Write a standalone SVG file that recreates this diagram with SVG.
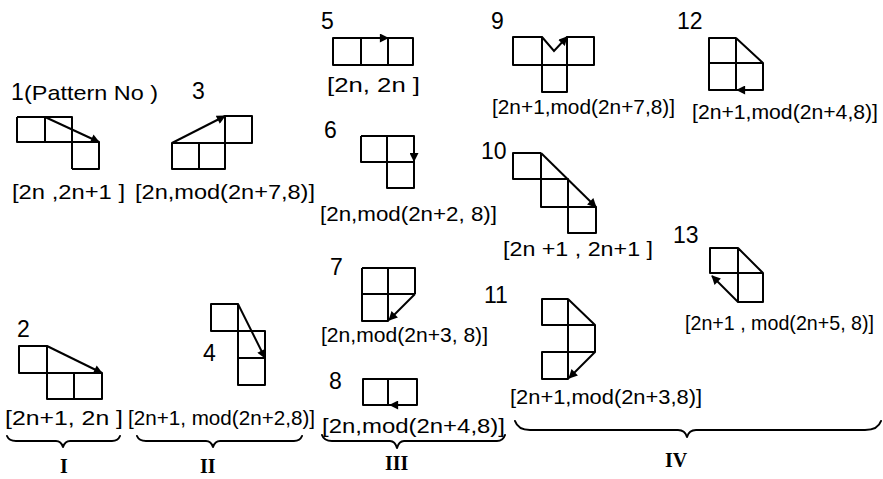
<svg xmlns="http://www.w3.org/2000/svg" width="883" height="479" viewBox="0 0 883 479">
  <style>
    .cell { fill: none; stroke: #000; stroke-width: 2; stroke-linejoin: round; }
    .arr { fill: none; stroke: #000; stroke-width: 2; marker-end: url(#head); }
    .num { font-family: "Liberation Sans", Arial, sans-serif; font-size: 23px; fill: #000; }
    .lbl { font-family: "Liberation Sans", Arial, sans-serif; font-size: 21px; fill: #000; }
    .brace { fill: none; stroke: #000; stroke-width: 2; stroke-linejoin: round; stroke-linecap: round; }
    .roman { font-family: "Liberation Serif", "Times New Roman", serif; font-weight: bold; font-size: 20px; fill: #000; }
  </style>
  <defs>
    <marker id="head" viewBox="0 0 10 10" refX="9" refY="5" markerWidth="11" markerHeight="9" markerUnits="userSpaceOnUse" orient="auto">
      <path d="M0,0 L10,5 L0,10 z" fill="#000"/>
    </marker>
  </defs>

  <g id="pattern-1">
    <text class="num" x="11" y="100">1</text>
    <text class="lbl" x="24" y="100" font-size="20" textLength="134" lengthAdjust="spacingAndGlyphs">(Pattern No )</text>
    <path class="cell" d="M17,117 H72 V169 M17,117 V142 H99 V169 H72 M45,117 V142"/>
    <path class="arr" d="M45,117 L99,142"/>
    <text class="lbl" x="12" y="199" textLength="113" lengthAdjust="spacingAndGlyphs">[2n ,2n+1 ]</text>
  </g>

  <g id="pattern-3">
    <text class="num" x="192" y="99">3</text>
    <path class="cell" d="M172,143 H252 V116 H225 V169 H172 Z M199,143 V169"/>
    <path class="arr" d="M172,143 L225,116"/>
    <text class="lbl" x="135" y="199" textLength="180" lengthAdjust="spacingAndGlyphs">[2n,mod(2n+7,8)]</text>
  </g>

  <g id="pattern-2">
    <text class="num" x="17" y="337">2</text>
    <path class="cell" d="M19,346 H47 V399 H102 V373 H19 Z M74,373 V399"/>
    <path class="arr" d="M47,346 L102,373"/>
    <text class="lbl" x="5" y="425" textLength="118" lengthAdjust="spacingAndGlyphs">[2n+1, 2n ]</text>
  </g>

  <g id="pattern-4">
    <text class="num" x="203" y="361">4</text>
    <path class="cell" d="M211,304 H238 V385 H265 V331 H211 Z M238,358 H265"/>
    <path class="arr" d="M238,304 L265,358"/>
    <text class="lbl" x="128" y="425" textLength="187" lengthAdjust="spacingAndGlyphs">[2n+1, mod(2n+2,8)]</text>
  </g>

  <g id="pattern-5">
    <text class="num" x="321" y="29">5</text>
    <path class="cell" d="M333,38 H413 V65 H333 Z M361,38 V65 M388,38 V65"/>
    <path class="arr" d="M362,38 L388,38"/>
    <text class="lbl" x="327" y="92" textLength="93" lengthAdjust="spacingAndGlyphs">[2n, 2n ]</text>
  </g>

  <g id="pattern-6">
    <text class="num" x="324" y="138">6</text>
    <path class="cell" d="M361,136 H414 V188 H387 V136 M361,136 V162 H414"/>
    <path class="arr" d="M414,136 L414,161"/>
    <text class="lbl" x="320" y="221" textLength="177" lengthAdjust="spacingAndGlyphs">[2n,mod(2n+2, 8)]</text>
  </g>

  <g id="pattern-7">
    <text class="num" x="330" y="275">7</text>
    <path class="cell" d="M362,268 H415 V294 M362,268 V321 H388 V268 M362,294 H415"/>
    <path class="arr" d="M415,294 L389,320"/>
    <text class="lbl" x="321" y="342" textLength="167" lengthAdjust="spacingAndGlyphs">[2n,mod(2n+3, 8)]</text>
  </g>

  <g id="pattern-8">
    <text class="num" x="329" y="389">8</text>
    <path class="cell" d="M363,379 H417 V405 H363 Z M388,379 V405"/>
    <path class="arr" d="M417,405 L390,405"/>
    <text class="lbl" x="322" y="433" textLength="183" lengthAdjust="spacingAndGlyphs">[2n,mod(2n+4,8)]</text>
  </g>

  <g id="pattern-9">
    <text class="num" x="491" y="29">9</text>
    <path class="cell" d="M542,37 H513 V65 H594 V37 H567 V92 H542 Z"/>
    <path class="arr" d="M542,37 L554,51 L567,37"/>
    <text class="lbl" x="492" y="114" textLength="183" lengthAdjust="spacingAndGlyphs">[2n+1,mod(2n+7,8)]</text>
  </g>

  <g id="pattern-12">
    <text class="num" x="677" y="29">12</text>
    <path class="cell" d="M736,38 H709 V90 H763 V63 L736,38 V90 M709,63 H763"/>
    <path class="arr" d="M763,90 L737,90"/>
    <text class="lbl" x="692" y="119" font-size="20" textLength="186" lengthAdjust="spacingAndGlyphs">[2n+1,mod(2n+4,8)]</text>
  </g>

  <g id="pattern-10">
    <text class="num" x="481" y="159">10</text>
    <path class="cell" d="M541,153 H513 V179 H568 V233 H596 V207 H541 V153"/>
    <path class="arr" d="M541,153 L596,207"/>
    <text class="lbl" x="503" y="256" textLength="150" lengthAdjust="spacingAndGlyphs">[2n +1 , 2n+1 ]</text>
  </g>

  <g id="pattern-11">
    <text class="num" x="484" y="303">11</text>
    <path class="cell" d="M568,299 H542 V325 H595 L568,299 V379 H542 V352 H595 V325"/>
    <path class="arr" d="M595,352 L569,378"/>
    <text class="lbl" x="510" y="404" textLength="192" lengthAdjust="spacingAndGlyphs">[2n+1,mod(2n+3,8)]</text>
  </g>

  <g id="pattern-13">
    <text class="num" x="673" y="243">13</text>
    <path class="cell" d="M738,248 H710 V273 H763 V302 H738 V248 L763,273"/>
    <path class="arr" d="M738,302 L712,276"/>
    <text class="lbl" x="685" y="330" font-size="18.5" textLength="189" lengthAdjust="spacingAndGlyphs">[2n+1 , mod(2n+5, 8)]</text>
  </g>

  <g id="groups">
    <path class="brace" d="M7,436 Q9,441 16,441 H56 Q61,441 63,447 Q65,441 70,441 H112 Q118,441 120,436"/>
    <text class="roman" x="60" y="473">I</text>
    <path class="brace" d="M137,436 Q139,441 146,441 H206 Q211,441 213,447 Q215,441 220,441 H294 Q300,441 302,436"/>
    <text class="roman" x="200" y="473">II</text>
    <path class="brace" d="M322,435 Q324,441 332,441 H390 Q395,441 397,448 Q399,441 404,441 H497 Q503,441 505,435"/>
    <text class="roman" x="385" y="470">III</text>
    <path class="brace" d="M515,421 Q518,430 530,430 H678 Q685,430 687,437 Q689,430 696,430 H865 Q878,430 881,421"/>
    <text class="roman" x="665" y="467">IV</text>
  </g>
</svg>
